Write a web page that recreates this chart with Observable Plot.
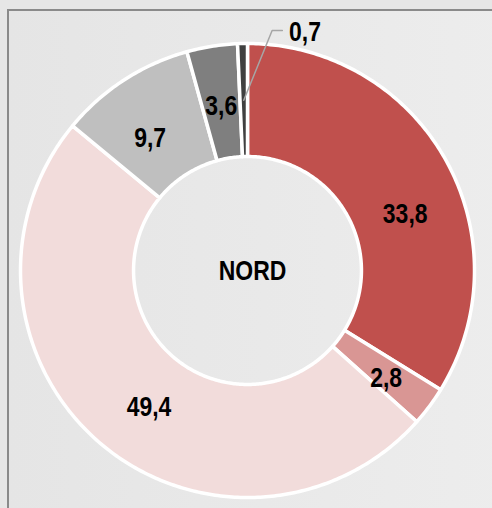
<!DOCTYPE html>
<html>
<head>
<meta charset="utf-8">
<script src="https://cdn.jsdelivr.net/npm/d3@7"></script>
<script src="https://cdn.jsdelivr.net/npm/@observablehq/plot@0.6"></script>
<style>
  html, body { margin: 0; padding: 0; background: #e6e6e6; }
  #wrap { position: relative; width: 492px; height: 508px; overflow: hidden; background: #e6e6e6; }
  #frame { position: absolute; left: 7px; top: 9px; width: 700px; height: 700px;
           border-left: 2px solid #8a8a8a; border-top: 2px solid #8a8a8a;
           background: linear-gradient(to right, #e5e5e5, #f0f0f0); }
  #chart { position: absolute; left: 0; top: 0; }
</style>
</head>
<body>
<div id="wrap"><div id="frame"></div><div id="chart"></div></div>
<script>
// ---- data ----
const categories = ["Cat. 1", "Cat. 2", "Cat. 3", "Cat. 4", "Cat. 5", "Cat. 6"];
const values = [33.8, 2.8, 49.4, 9.7, 3.6, 0.7];
const valueLabels = ["33,8", "2,8", "49,4", "9,7", "3,6", "0,7"];
const colors = ["#c0504d", "#d99694", "#f2dcdb", "#bfbfbf", "#7f7f7f", "#404040"];
const centerLabel = "NORD";

// ---- layout (label nudges in pixels, like manually moved Excel labels) ----
const nudges = [[11, 25], [4, 7], [11, 9], [-6, 9], [0, 1], [0, 0]];

// ---- geometry from data ----
const R0 = 0.502, R1 = 1;
const pt = (r, a) => [r * Math.sin(a), r * Math.cos(a)];
const arcs = d3.pie().sort(null).value(d => d)(values);

const polys = [];
arcs.forEach((a, i) => {
  const n = Math.max(4, Math.ceil((a.endAngle - a.startAngle) * 80));
  for (let k = 0; k <= n; k++) {
    const t = a.startAngle + (a.endAngle - a.startAngle) * k / n;
    const [x, y] = pt(R1, t);
    polys.push({cat: categories[i], x, y});
  }
  for (let k = n; k >= 0; k--) {
    const t = a.startAngle + (a.endAngle - a.startAngle) * k / n;
    const [x, y] = pt(R0, t);
    polys.push({cat: categories[i], x, y});
  }
});

const LR = 0.74;
const labels = arcs.map((a, i) => {
  const m = (a.startAngle + a.endAngle) / 2;
  const [x, y] = pt(LR, m);
  return {i, x, y, text: valueLabels[i], v: values[i]};
});
const inside = labels.filter(d => d.v >= 2);
const small = labels.filter(d => d.v < 2);

// leader for small slices
const leader = [];
const outside = [];
small.forEach(d => {
  const a = arcs[d.i];
  const m = (a.startAngle + a.endAngle) / 2;
  const [x0, y0] = pt(0.75, m);
  const yE = 1.057;
  const xE = x0 + 0.125;
  leader.push({k: d.i, x: x0, y: y0}, {k: d.i, x: xE, y: yE}, {k: d.i, x: xE + 0.045, y: yE});
  outside.push({x: xE + 0.145, y: yE - 0.006, text: d.text});
});

const font = "'Liberation Sans', Arial, sans-serif";
const textOpts = {fontFamily: font, fontSize: 28, fontWeight: "bold", fill: "black"};

const chart = Plot.plot({
  width: 492,
  height: 508,
  marginLeft: 20,
  marginRight: 18,
  marginTop: 43,
  marginBottom: 11,
  x: {domain: [-1, 1], axis: null},
  y: {domain: [-1, 1], axis: null},
  color: {domain: categories, range: colors},
  style: {background: "transparent", overflow: "visible"},
  marks: [
    Plot.line(polys, {x: "x", y: "y", z: "cat", fill: "cat", stroke: "white", strokeWidth: 3.5, curve: "linear-closed"}),
    Plot.line(leader, {x: "x", y: "y", z: "k", stroke: "#a6a6a6", strokeWidth: 1.5}),
    ...inside.map(d => Plot.text([d], {x: "x", y: "y", text: "text", dx: nudges[d.i][0], dy: nudges[d.i][1], ...textOpts})),
    Plot.text(outside, {x: "x", y: "y", text: "text", ...textOpts}),
    Plot.text([centerLabel], {x: () => 0, y: () => 0, text: d => d, dx: 5, dy: 1, ...textOpts})
  ]
});

// condense the text horizontally (Arial Narrow look)
const ns = "http://www.w3.org/2000/svg";
chart.querySelectorAll("text").forEach(t => {
  const g = document.createElementNS(ns, "g");
  const tr = t.getAttribute("transform");
  if (tr) g.setAttribute("transform", tr);
  t.parentNode.insertBefore(g, t);
  g.appendChild(t);
  t.setAttribute("transform", "scale(0.82,1)");
});
document.getElementById("chart").appendChild(chart);
</script>
</body>
</html>
